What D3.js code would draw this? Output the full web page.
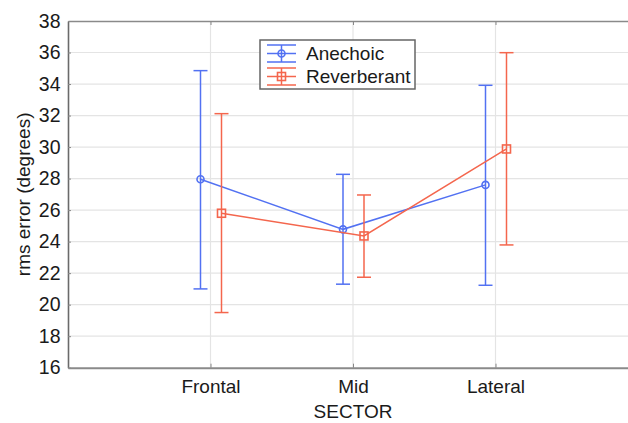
<!DOCTYPE html>
<html>
<head>
<meta charset="utf-8">
<script src="https://cdn.jsdelivr.net/npm/d3@7"></script>
<style>
  html, body { margin: 0; padding: 0; background: #fff; }
  svg { display: block; font-family: "Liberation Sans", Arial, sans-serif; }
</style>
</head>
<body>
<svg id="chart" width="628" height="423"></svg>
<script>
// Sector categories and y-axis ticks
const sectors = ["Frontal", "Mid", "Lateral"];
const yTicks = [16, 18, 20, 22, 24, 26, 28, 30, 32, 34, 36, 38];

// Mean rms error with lower / upper interval bounds (degrees)
const anechoicMean  = [27.96, 24.78, 27.6];
const anechoicLow   = [21.0, 21.3, 21.23];
const anechoicHigh  = [34.85, 28.27, 33.92];

const reverbMean    = [25.8, 24.36, 29.88];
const reverbLow     = [19.5, 21.74, 23.79];
const reverbHigh    = [32.12, 26.96, 35.99];

const seriesNames = ["Anechoic", "Reverberant"];

const series = [
  { name: seriesNames[0], mean: anechoicMean, low: anechoicLow, high: anechoicHigh,
    color: "#5271f2", marker: "circle", dx: -10 },
  { name: seriesNames[1], mean: reverbMean, low: reverbLow, high: reverbHigh,
    color: "#f4664d", marker: "square", dx: 11 }
];

const svg = d3.select("#chart");
const plotLeft = 68, plotRight = 638, plotTop = 21, plotBottom = 367.7;

const x = d3.scalePoint().domain(sectors).range([plotLeft, plotRight]).padding(1);
const y = d3.scaleLinear().domain([16, 38]).range([plotBottom, plotTop]);

// Grid
const grid = svg.append("g");
grid.selectAll("line.h").data(yTicks.slice(1, -1)).join("line")
  .attr("x1", plotLeft).attr("x2", plotRight)
  .attr("y1", d => y(d)).attr("y2", d => y(d))
  .attr("stroke", "#e4e4e4").attr("stroke-width", 1.2);
grid.selectAll("line.v").data(sectors).join("line")
  .attr("x1", d => x(d)).attr("x2", d => x(d))
  .attr("y1", plotTop).attr("y2", plotBottom)
  .attr("stroke", "#e4e4e4").attr("stroke-width", 1.2);

// Axes
const yAxis = d3.axisLeft(y).tickValues(yTicks).tickSizeInner(-3).tickSizeOuter(0).tickPadding(7.5);
const gy = svg.append("g").attr("transform", `translate(${plotLeft},0)`).call(yAxis);
gy.select(".domain").attr("stroke", "#6a6a6a").attr("stroke-width", 1.6);
gy.selectAll(".tick line").attr("stroke", "#888");
gy.selectAll(".tick text").attr("font-size", 19.5).attr("fill", "#1a1a1a")
  .attr("font-family", "Liberation Sans, Arial, sans-serif");

const xAxis = d3.axisBottom(x).tickSizeInner(-4).tickSizeOuter(0).tickPadding(12);
const gx = svg.append("g").attr("transform", `translate(0,${plotBottom})`).call(xAxis);
gx.select(".domain").attr("stroke", "#8a8a8a").attr("stroke-width", 2);
gx.selectAll(".tick line").attr("stroke", "#888");
gx.selectAll(".tick text").attr("font-size", 19).attr("fill", "#1a1a1a")
  .attr("font-family", "Liberation Sans, Arial, sans-serif");

const xTop = d3.axisTop(x).tickSizeInner(-4).tickSizeOuter(0).tickFormat("");
const gt = svg.append("g").attr("transform", `translate(0,${plotTop})`).call(xTop);
gt.select(".domain").attr("stroke", "#8a8a8a").attr("stroke-width", 1.6);
gt.selectAll(".tick line").attr("stroke", "#888");

// Axis titles
svg.append("text")
  .attr("x", (plotLeft + plotRight) / 2).attr("y", 418)
  .attr("text-anchor", "middle").attr("font-size", 19).attr("fill", "#1a1a1a")
  .text("SECTOR");
svg.append("text")
  .attr("transform", `translate(29.5,${(plotTop + plotBottom) / 2}) rotate(-90)`)
  .attr("text-anchor", "middle").attr("font-size", 19).attr("fill", "#1a1a1a")
  .text("rms error (degrees)");

// Series: error bars, connecting lines, markers
const capHalf = 7;
series.forEach(s => {
  const g = svg.append("g");
  const px = (d, i) => x(sectors[i]) + s.dx;
  g.selectAll("line.bar").data(s.mean).join("line")
    .attr("x1", px).attr("x2", px)
    .attr("y1", (d, i) => y(s.low[i])).attr("y2", (d, i) => y(s.high[i]))
    .attr("stroke", s.color).attr("stroke-width", 1.5);
  ["low", "high"].forEach(k => {
    g.selectAll("line.cap-" + k).data(s[k]).join("line")
      .attr("class", "cap-" + k)
      .attr("x1", (d, i) => px(d, i) - capHalf).attr("x2", (d, i) => px(d, i) + capHalf)
      .attr("y1", d => y(d)).attr("y2", d => y(d))
      .attr("stroke", s.color).attr("stroke-width", 1.5);
  });
  const line = d3.line().x((d, i) => px(d, i)).y(d => y(d));
  g.append("path").datum(s.mean).attr("d", line)
    .attr("fill", "none").attr("stroke", s.color).attr("stroke-width", 1.5);
  if (s.marker === "circle") {
    g.selectAll("circle").data(s.mean).join("circle")
      .attr("cx", px).attr("cy", d => y(d)).attr("r", 3.5)
      .attr("fill", "none").attr("stroke", s.color).attr("stroke-width", 1.6);
  } else {
    g.selectAll("rect").data(s.mean).join("rect")
      .attr("x", (d, i) => px(d, i) - 4).attr("y", d => y(d) - 4)
      .attr("width", 8).attr("height", 8)
      .attr("fill", "none").attr("stroke", s.color).attr("stroke-width", 1.6);
  }
});

// Legend
const lg = svg.append("g");
lg.append("rect").attr("x", 260).attr("y", 40).attr("width", 155).attr("height", 49)
  .attr("fill", "#fff").attr("stroke", "#666").attr("stroke-width", 1.5);
series.forEach((s, i) => {
  const cy = i === 0 ? 53.5 : 76.5;
  const cx = 281.5;
  const row = lg.append("g");
  [-8.5, 0, 8.5].forEach(o => {
    row.append("line").attr("x1", 267).attr("x2", 296)
      .attr("y1", cy + o).attr("y2", cy + o)
      .attr("stroke", s.color).attr("stroke-width", 1.5);
  });
  row.append("line").attr("x1", cx).attr("x2", cx)
    .attr("y1", cy - 8.5).attr("y2", cy + 8.5)
    .attr("stroke", s.color).attr("stroke-width", 1.5);
  if (s.marker === "circle") {
    row.append("circle").attr("cx", cx).attr("cy", cy).attr("r", 3.5)
      .attr("fill", "none").attr("stroke", s.color).attr("stroke-width", 1.6);
  } else {
    row.append("rect").attr("x", cx - 4).attr("y", cy - 4).attr("width", 8).attr("height", 8)
      .attr("fill", "none").attr("stroke", s.color).attr("stroke-width", 1.6);
  }
  row.append("text").attr("x", 306).attr("y", cy + 6.5)
    .attr("font-size", 19).attr("fill", "#1a1a1a").text(s.name);
});
</script>
</body>
</html>
